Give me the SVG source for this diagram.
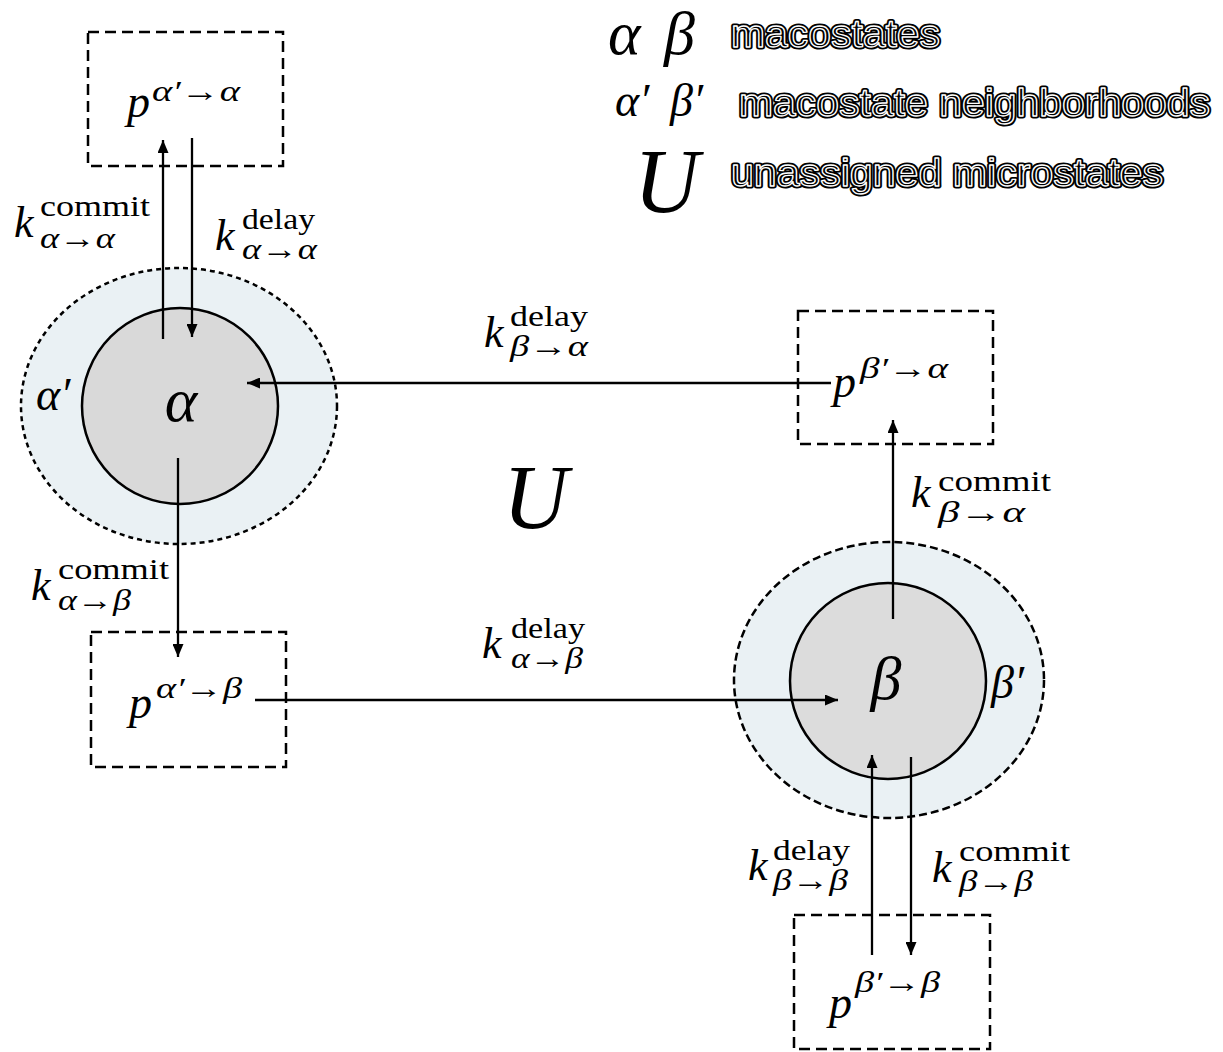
<svg xmlns="http://www.w3.org/2000/svg" width="1223" height="1052" viewBox="0 0 1223 1052">
<style>
.m{font-family:"Liberation Serif","Times New Roman",serif;font-style:italic;fill:#000}
.r{font-family:"Liberation Serif","Times New Roman",serif;font-style:normal;fill:#000}
.box{fill:none;stroke:#000;stroke-width:2.5;stroke-dasharray:11 6}
.ln{stroke:#000;stroke-width:2.3;fill:none}
.lg1{font-family:"Liberation Sans",Arial,sans-serif;font-size:38px;fill:#000;stroke:#000;stroke-width:5;stroke-linejoin:round}
.lg2{font-family:"Liberation Sans",Arial,sans-serif;font-size:38px;fill:#000;stroke:#fff;stroke-width:1.3;stroke-linejoin:round}
</style>
<defs>
<marker id="ah" markerUnits="userSpaceOnUse" markerWidth="13" markerHeight="11" refX="13" refY="5.5" orient="auto">
<path d="M0,0 L13,5.5 L0,11 z" fill="#000"/>
</marker>
</defs>
<rect width="1223" height="1052" fill="#fff"/>

<g id="legend">
<text class="m" x="608" y="54" font-size="62">α</text>
<text class="m" x="664" y="54" font-size="62">β</text>
<text class="m" x="615" y="116" font-size="46">α′</text>
<text class="m" x="670" y="116" font-size="46">β′</text>
<text class="m" x="634" y="212" font-size="90">U</text>
<text class="lg1" x="731" y="47" textLength="209" lengthAdjust="spacingAndGlyphs">macostates</text>
<text class="lg2" x="731" y="47" textLength="209" lengthAdjust="spacingAndGlyphs">macostates</text>
<text class="lg1" x="739" y="116" textLength="471" lengthAdjust="spacingAndGlyphs">macostate neighborhoods</text>
<text class="lg2" x="739" y="116" textLength="471" lengthAdjust="spacingAndGlyphs">macostate neighborhoods</text>
<text class="lg1" x="731" y="186" textLength="432" lengthAdjust="spacingAndGlyphs">unassigned microstates</text>
<text class="lg2" x="731" y="186" textLength="432" lengthAdjust="spacingAndGlyphs">unassigned microstates</text>
</g>

<g id="node-alpha">
<ellipse cx="179" cy="406" rx="158" ry="138" fill="#eaf1f4" stroke="#000" stroke-width="2.5" stroke-dasharray="5 4"/>
<circle cx="180" cy="406" r="98" fill="#d9d9d9" stroke="#000" stroke-width="2.5"/>
<text class="m" x="181" y="421" font-size="62" text-anchor="middle">α</text>
<text class="m" x="36" y="410" font-size="46">α′</text>
</g>

<g id="node-beta">
<ellipse cx="889" cy="680" rx="155" ry="138" fill="#eaf1f4" stroke="#000" stroke-width="2.5" stroke-dasharray="8 4"/>
<circle cx="888" cy="681" r="98" fill="#dcdcdc" stroke="#000" stroke-width="2.5"/>
<text class="m" x="886" y="699" font-size="62" text-anchor="middle">β</text>
<text class="m" x="991" y="698" font-size="46">β′</text>
</g>

<g id="node-U">
<text class="m" x="503" y="528" font-size="90">U</text>
</g>

<g id="box-aa">
<rect class="box" x="88" y="32" width="195" height="134"/>
<text class="m" x="127" y="117" font-size="46">p</text>
<text class="m" x="152" y="101" font-size="30" textLength="88" lengthAdjust="spacingAndGlyphs">α′→α</text>
</g>

<g id="box-ba">
<rect class="box" x="798" y="311" width="195" height="133"/>
<text class="m" x="833" y="397" font-size="46">p</text>
<text class="m" x="860" y="378" font-size="30" textLength="88" lengthAdjust="spacingAndGlyphs">β′→α</text>
</g>

<g id="box-ab">
<rect class="box" x="91" y="632" width="195" height="135"/>
<text class="m" x="129" y="718" font-size="46">p</text>
<text class="m" x="156" y="698" font-size="30" textLength="86" lengthAdjust="spacingAndGlyphs">α′→β</text>
</g>

<g id="box-bb">
<rect class="box" x="794" y="915" width="196" height="134"/>
<text class="m" x="829" y="1018" font-size="46">p</text>
<text class="m" x="855" y="992" font-size="30" textLength="85" lengthAdjust="spacingAndGlyphs">β′→β</text>
</g>

<g id="connectors">
<line class="ln" x1="163" y1="339" x2="163" y2="140" marker-end="url(#ah)"/>
<line class="ln" x1="192" y1="138" x2="192" y2="337" marker-end="url(#ah)"/>
<line class="ln" x1="831" y1="383" x2="247" y2="383" marker-end="url(#ah)"/>
<line class="ln" x1="893" y1="619" x2="893" y2="420" marker-end="url(#ah)"/>
<line class="ln" x1="178" y1="458" x2="178" y2="657" marker-end="url(#ah)"/>
<line class="ln" x1="255" y1="700" x2="838" y2="700" marker-end="url(#ah)"/>
<line class="ln" x1="872" y1="955" x2="872" y2="755" marker-end="url(#ah)"/>
<line class="ln" x1="911" y1="757" x2="911" y2="955" marker-end="url(#ah)"/>

<g id="lbl-commit-aa">
<text class="m" x="14" y="237" font-size="44">k</text>
<text class="r" x="40" y="216" font-size="30" textLength="110" lengthAdjust="spacingAndGlyphs">commit</text>
<text class="m" x="40" y="248" font-size="30" textLength="75" lengthAdjust="spacingAndGlyphs">α→α</text>
</g>
<g id="lbl-delay-aa">
<text class="m" x="215" y="250" font-size="44">k</text>
<text class="r" x="242" y="229" font-size="30" textLength="73" lengthAdjust="spacingAndGlyphs">delay</text>
<text class="m" x="242" y="259" font-size="30" textLength="75" lengthAdjust="spacingAndGlyphs">α→α</text>
</g>
<g id="lbl-delay-ba">
<text class="m" x="484" y="347" font-size="44">k</text>
<text class="r" x="510" y="326" font-size="30" textLength="78" lengthAdjust="spacingAndGlyphs">delay</text>
<text class="m" x="510" y="356" font-size="30" textLength="78" lengthAdjust="spacingAndGlyphs">β→α</text>
</g>
<g id="lbl-commit-ba">
<text class="m" x="911" y="507" font-size="44">k</text>
<text class="r" x="938" y="491" font-size="30" textLength="113" lengthAdjust="spacingAndGlyphs">commit</text>
<text class="m" x="938" y="522" font-size="30" textLength="87" lengthAdjust="spacingAndGlyphs">β→α</text>
</g>
<g id="lbl-commit-ab">
<text class="m" x="31" y="600" font-size="44">k</text>
<text class="r" x="58" y="579" font-size="30" textLength="111" lengthAdjust="spacingAndGlyphs">commit</text>
<text class="m" x="58" y="610" font-size="30" textLength="73" lengthAdjust="spacingAndGlyphs">α→β</text>
</g>
<g id="lbl-delay-ab">
<text class="m" x="482" y="658" font-size="44">k</text>
<text class="r" x="511" y="638" font-size="30" textLength="74" lengthAdjust="spacingAndGlyphs">delay</text>
<text class="m" x="511" y="668" font-size="30" textLength="72" lengthAdjust="spacingAndGlyphs">α→β</text>
</g>
<g id="lbl-delay-bb">
<text class="m" x="748" y="880" font-size="44">k</text>
<text class="r" x="773" y="860" font-size="30" textLength="77" lengthAdjust="spacingAndGlyphs">delay</text>
<text class="m" x="773" y="890" font-size="30" textLength="75" lengthAdjust="spacingAndGlyphs">β→β</text>
</g>
<g id="lbl-commit-bb">
<text class="m" x="932" y="882" font-size="44">k</text>
<text class="r" x="959" y="861" font-size="30" textLength="111" lengthAdjust="spacingAndGlyphs">commit</text>
<text class="m" x="959" y="891" font-size="30" textLength="74" lengthAdjust="spacingAndGlyphs">β→β</text>
</g>
</g>
</svg>
